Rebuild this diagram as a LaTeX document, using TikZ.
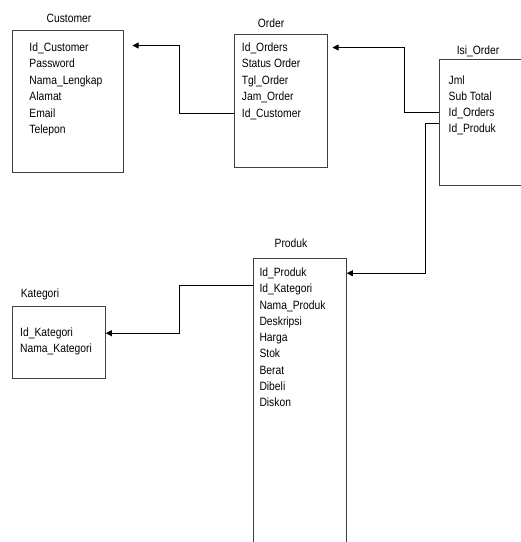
\documentclass[tikz,border=0pt]{standalone}
\usepackage{fontspec}
\setmainfont{Liberation Sans}[FakeStretch=0.86]
\usetikzlibrary{arrows.meta}
\usetikzlibrary{calc}

\tikzset{
  entity/.style={draw=black!75,line width=0.8pt,anchor=north west,inner sep=0pt},
  title/.style={anchor=base,inner sep=0pt,font=\fontsize{12}{14}\selectfont},
  attr/.style={anchor=base west,inner sep=0pt,text height=9pt,text depth=2pt,font=\fontsize{12}{14}\selectfont},
  fk/.style={-{Triangle[length=6pt,width=6pt]},line width=0.8pt}
}

\begin{document}
\begin{tikzpicture}[x=1pt,y=-1pt]
\useasboundingbox (0,0) rectangle (521,542);

% Draw the tables
\node[entity,minimum width=111pt,minimum height=142pt](cust) at (12,30){};
\node[entity,minimum width=93pt,minimum height=133pt](ord) at (234,34){};
\node[entity,minimum width=95pt,minimum height=126pt](isi) at (439,59){};
\node[entity,minimum width=93pt,minimum height=300pt](prod) at (253,258){};
\node[entity,minimum width=93pt,minimum height=72pt](kat) at (12,306){};

% Table names
\node[title](cust-title) at (69,22){Customer};
\node[title](ord-title) at (271,27){Order};
\node[title](isi-title) at (478,54){Isi\_Order};
\node[title](prod-title) at (291,247){Produk};
\node[title](kat-title) at (40,297){Kategori};

% Fields of each table
\foreach \t [count=\i] in {Id\_Customer,Password,Nama\_Lengkap,Alamat,Email,Telepon}
  \node[attr](cust-\i) at (29.3,{51+16.5*(\i-1)}){\t};
\foreach \t [count=\i] in {Id\_Orders,Status Order,Tgl\_Order,Jam\_Order,Id\_Customer}
  \node[attr](ord-\i) at (241.7,{51+16.5*(\i-1)}){\t};
\foreach \t [count=\i] in {Jml,Sub Total,Id\_Orders,Id\_Produk}
  \node[attr](isi-\i) at (448.5,{84+16*(\i-1)}){\t};
\foreach \t [count=\i] in {Id\_Produk,Id\_Kategori,Nama\_Produk,Deskripsi,Harga,Stok,Berat,Dibeli,Diskon}
  \node[attr](prod-\i) at (259.3,{276.7+16.25*(\i-1)}){\t};
\foreach \t [count=\i] in {Id\_Kategori,Nama\_Kategori}
  \node[attr](kat-\i) at (20,{336.7+16*(\i-1)}){\t};

% Draw the relations
\draw[fk,shorten >=8.7pt] (ord.west |- ord-5) -- ++(-55,0) |- ($(cust.east |- cust-1)+(0,-2)$);
\draw[fk,shorten >=4.7pt] (isi.west |- isi-3) -- ++(-34.5,0) |- (ord.east |- ord-1);
\draw[fk] ($(isi.west |- isi-4)+(0,-5)$) -- ++(-13.5,0) |- (prod.east |- prod-1);
\draw[fk] ($(prod.west |- prod-2)+(0,-4)$) -- ++(-74,0) |- (kat.east |- kat-1);
\end{tikzpicture}
\end{document}
